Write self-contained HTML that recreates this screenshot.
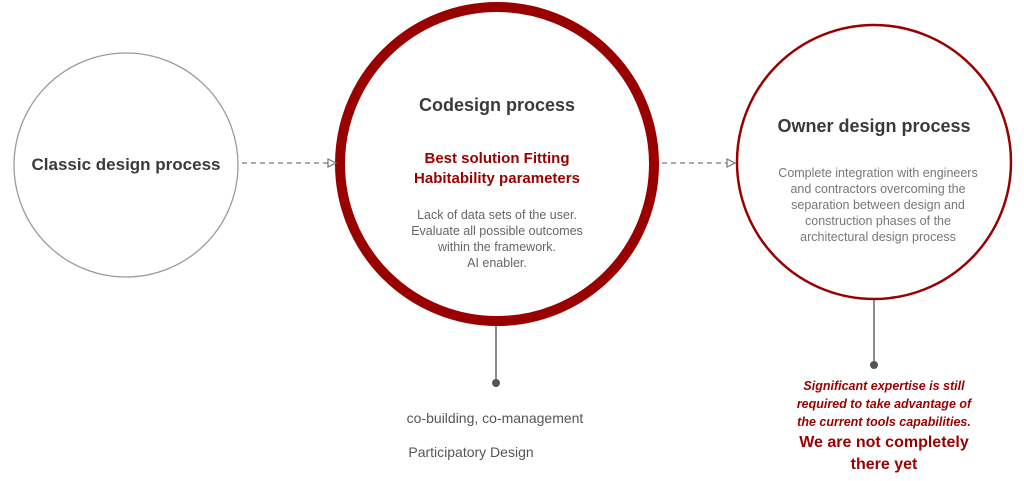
<!DOCTYPE html>
<html><head><style>
body{margin:0;width:1024px;height:481px;background:#fff;overflow:hidden;font-family:"Liberation Sans",sans-serif}
svg{position:absolute;left:0;top:0}
.t{position:absolute;text-align:center;transform:translateX(-50%);white-space:nowrap}
</style></head><body>
<svg width="1024" height="481">
<circle cx="126" cy="165" r="112" fill="none" stroke="#9a9a9a" stroke-width="1.3"/>
<circle cx="497" cy="164" r="157" fill="none" stroke="#990000" stroke-width="10"/>
<circle cx="874" cy="162" r="137" fill="none" stroke="#990000" stroke-width="2.5"/>
<line x1="242" y1="163" x2="328" y2="163" stroke="#777" stroke-width="1.2" stroke-dasharray="5,4"/>
<polygon points="328,159 336,163 328,167" fill="#fff" stroke="#777" stroke-width="1.2"/>
<line x1="662" y1="163" x2="727" y2="163" stroke="#777" stroke-width="1.2" stroke-dasharray="5,4"/>
<polygon points="727,159 735,163 727,167" fill="#fff" stroke="#777" stroke-width="1.2"/>
<line x1="496" y1="326" x2="496" y2="383" stroke="#666" stroke-width="1.5"/>
<circle cx="496" cy="383" r="4" fill="#555"/>
<line x1="874" y1="300" x2="874" y2="365" stroke="#666" stroke-width="1.5"/>
<circle cx="874" cy="365" r="4" fill="#555"/>
</svg>
<div class="t" style="left:126px;top:155px;font-size:17px;font-weight:bold;color:#3a3a3a">Classic design process</div>
<div class="t" style="left:497px;top:95px;font-size:18px;font-weight:bold;color:#3a3a3a">Codesign process</div>
<div class="t" style="left:497px;top:149px;font-size:15px;font-weight:bold;color:#990000;line-height:20px">Best solution Fitting<br>Habitability parameters</div>
<div class="t" style="left:497px;top:207px;font-size:12.5px;color:#666;line-height:16px">Lack of data sets of the user.<br>Evaluate all possible outcomes<br>within the framework.<br>AI enabler.</div>
<div class="t" style="left:874px;top:116px;font-size:18px;font-weight:bold;color:#3a3a3a">Owner design process</div>
<div class="t" style="left:878px;top:165px;font-size:12.5px;color:#777;line-height:16px">Complete integration with engineers<br>and contractors overcoming the<br>separation between design and<br>construction phases of the<br>architectural design process</div>
<div class="t" style="left:495px;top:410px;font-size:14px;color:#555">co-building, co-management</div>
<div class="t" style="left:471px;top:444px;font-size:14px;color:#555">Participatory Design</div>
<div class="t" style="left:884px;top:377px;font-size:12.5px;font-weight:bold;font-style:italic;color:#990000;line-height:18px">Significant expertise is still<br>required to take advantage of<br>the current tools capabilities.</div>
<div class="t" style="left:884px;top:432px;font-size:16px;font-weight:bold;color:#990000;line-height:22px">We are not completely<br>there yet</div>
</body></html>
